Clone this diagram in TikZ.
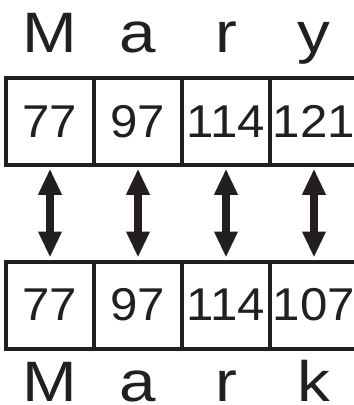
\documentclass[tikz,border=0pt]{standalone}
\usepackage{fontspec}
\usepackage{tikz}
\usetikzlibrary{arrows.meta,positioning}
\newfontfamily\letterfont[FakeStretch=1.15]{Liberation Sans}
\newfontfamily\codefont[FakeStretch=1.07]{Liberation Sans}
\definecolor{ink}{RGB}{35,31,32}

\begin{document}
\begin{tikzpicture}[
        x=1pt, y=1pt,
        cell/.style={draw=ink, line width=4pt, outer sep=0pt, inner sep=0pt,
            minimum width=88pt, minimum height=87pt, text=ink,
            font=\codefont\fontsize{46}{48}\selectfont},
        letter/.style={anchor=base, inner sep=0pt, text=ink,
            font=\letterfont\fontsize{57}{60}\selectfont},
        arr/.style={{Triangle[length=26pt,width=22pt]}-{Triangle[length=26pt,width=22pt]},
            draw=ink, fill=ink, line width=8pt, shorten >=4pt, shorten <=4pt}
    ]
        \useasboundingbox (0,0) rectangle (354,-405);
        % top word
        \node[cell] (t1) at (50,-121.25) {77};
        \node[cell, right=0pt of t1] (t2) {97};
        \node[cell, right=0pt of t2] (t3) {114};
        \node[cell, right=0pt of t3] (t4) {121};
        % bottom word
        \node[cell, below=96.75pt of t1] (b1) {77};
        \node[cell, right=0pt of b1] (b2) {97};
        \node[cell, right=0pt of b2] (b3) {114};
        \node[cell, right=0pt of b3] (b4) {107};
        % letters
        \node[letter] (lt1) at ([yshift=25pt]t1.north) {M};
        \node[letter] (lt2) at ([yshift=25pt]t2.north) {a};
        \node[letter] (lt3) at ([yshift=25pt]t3.north) {r};
        \node[letter] (lt4) at ([yshift=25pt]t4.north) {y};
        \node[letter] (lb1) at ([yshift=-53pt]b1.south) {M};
        \node[letter] (lb2) at ([yshift=-53pt]b2.south) {a};
        \node[letter] (lb3) at ([yshift=-53pt]b3.south) {r};
        \node[letter] (lb4) at ([yshift=-53pt]b4.south) {k};
        % arrows
        \foreach \i in {1,...,4}
            \draw[arr] (t\i.south) -- (b\i.north);
    \end{tikzpicture}
\end{document}
